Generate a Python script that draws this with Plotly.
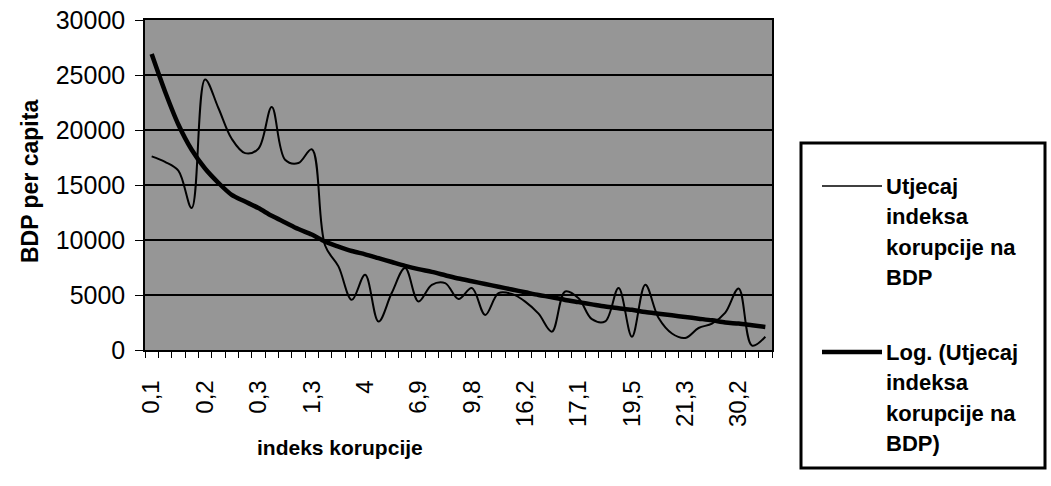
import plotly.graph_objects as go

# ---- data ----
tick_labels = ["0,1", "0,2", "0,3", "1,3", "4", "6,9", "9,8", "16,2", "17,1", "19,5", "21,3", "30,2"]

bdp = [17600, 17100, 16300, 12900, 24600, 22000, 19200, 17900, 18300, 22100,
       17300, 17000, 18250, 9500, 7600, 4560, 6840, 2580, 5200, 7450,
       4410, 5930, 6080, 4630, 5630, 3190, 5170, 5100, 4400, 3300,
       1670, 5320, 4700, 2800, 2600, 5630, 1210, 5930, 2900, 1500,
       1100, 2000, 2400, 3400, 5600, 400, 1200]

log_trend = [26900, 23500, 20500, 18200, 16500, 15200, 14100, 13500, 12900, 12200,
             11600, 11000, 10500, 9850, 9400, 9000, 8700, 8350, 8000, 7650,
             7350, 7100, 6800, 6500, 6250, 6000, 5750, 5500, 5250, 5000,
             4800, 4550, 4350, 4150, 3950, 3800, 3650, 3450, 3300, 3150,
             3000, 2850, 2700, 2500, 2400, 2250, 2100]

series_names = ["Utjecaj indeksa korupcije na BDP", "Log. (Utjecaj indeksa korupcije na BDP)"]
legend_lines = [["Utjecaj", "indeksa", "korupcije na", "BDP"],
                ["Log. (Utjecaj", "indeksa", "korupcije na", "BDP)"]]
x_title = "indeks korupcije"
y_title = "BDP per capita"

x = list(range(len(bdp)))
step = 4
tickvals = x[::step][:len(tick_labels)]

FONT = "Liberation Sans, Arial, sans-serif"
W, H = 1051, 486
# plot area in screen pixels (page body margin removed by post_script)
L, R, T, B = 145, 772, 20, 350


def px(xs):
    return (xs - L) / (R - L)


def py(ys):
    return (B - ys) / (B - T)


fig = go.Figure()
fig.add_trace(go.Scatter(x=x, y=bdp, mode="lines", name=series_names[0],
                         line=dict(color="black", width=2, shape="spline", smoothing=1.0)))
fig.add_trace(go.Scatter(x=x, y=log_trend, mode="lines", name=series_names[1],
                         line=dict(color="black", width=4.5, shape="spline", smoothing=0.8)))

fig.update_layout(
    width=W, height=H,
    margin=dict(l=L, r=W - R, t=T, b=H - B, autoexpand=False),
    paper_bgcolor="white",
    plot_bgcolor="#969696",
    showlegend=False,
    font=dict(family=FONT, color="black"),
)

fig.update_xaxes(
    range=[-0.5, len(bdp) - 0.5], automargin=False,
    tickmode="array", tickvals=tickvals, ticktext=tick_labels,
    tickangle=-90, tickfont=dict(size=24, family=FONT),
    ticks="", ticklabelstandoff=19, ticklabeloverflow="allow",
    minor=dict(ticks="outside", ticklen=6, tickcolor="black", tickwidth=1,
               tickmode="linear", tick0=-0.5, dtick=1, showgrid=False),
    showgrid=False, zeroline=False,
    showline=True, linecolor="black", linewidth=1.5, mirror=True,
)
fig.update_yaxes(
    range=[0, 30000], tickmode="linear", tick0=0, dtick=5000, automargin=False,
    tickformat="d",
    tickfont=dict(size=25, family=FONT),
    ticks="outside", ticklen=8, tickcolor="black", tickwidth=1,
    ticklabelstandoff=5, ticklabeloverflow="allow",
    showgrid=True, gridcolor="black", gridwidth=1.5, zeroline=False,
    showline=True, linecolor="black", linewidth=1.5, mirror=True,
)

# axis titles
fig.add_annotation(text="<b>" + x_title + "</b>", xref="paper", yref="paper",
                   x=px(340), y=py(447), showarrow=False,
                   font=dict(size=21, family=FONT), xanchor="center", yanchor="middle")
fig.add_annotation(text="<b>" + y_title + "</b>", xref="paper", yref="paper",
                   x=px(30), y=py(182), showarrow=False, textangle=-90,
                   font=dict(size=23, family=FONT), xanchor="center", yanchor="middle")

# legend box drawn manually
fig.add_shape(type="rect", xref="paper", yref="paper",
              x0=px(801), x1=px(1045), y0=py(143), y1=py(468),
              line=dict(color="black", width=3), fillcolor="white", layer="above")
entry_tops = [186, 352]
line_widths = [1.5, 4.5]
spacing = 30.5
for k in range(2):
    yl = entry_tops[k]
    fig.add_shape(type="line", xref="paper", yref="paper",
                  x0=px(822), x1=px(882), y0=py(yl), y1=py(yl),
                  line=dict(color="black", width=line_widths[k]), layer="above")
    for j, txt in enumerate(legend_lines[k]):
        fig.add_annotation(text="<b>" + txt + "</b>", xref="paper", yref="paper",
                           x=px(884), y=py(yl + j * spacing), showarrow=False,
                           xanchor="left", yanchor="middle",
                           font=dict(size=22, family=FONT))

fig.write_html("out.html",
               config={"displayModeBar": False},
               post_script="document.body.style.margin='0';document.body.style.overflow='hidden';")
